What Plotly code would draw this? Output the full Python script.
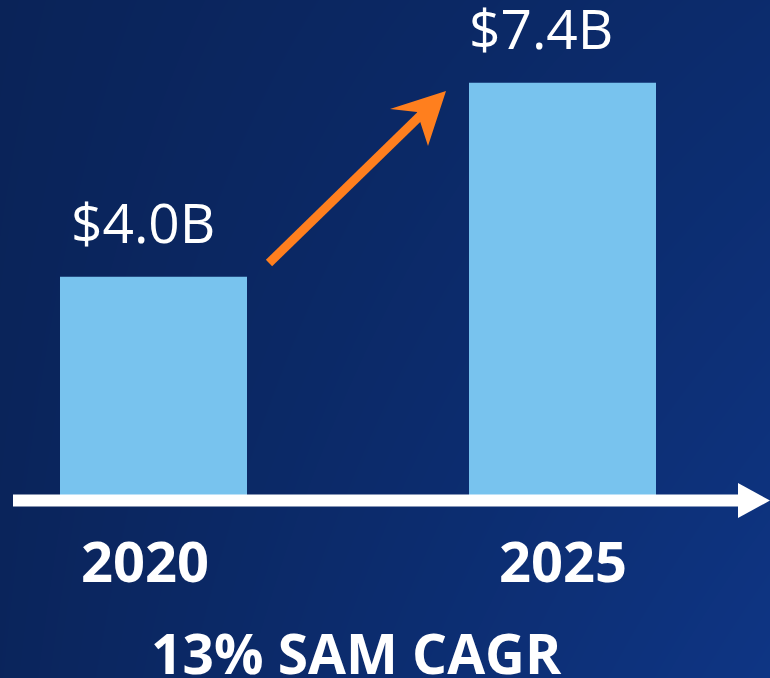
import plotly.graph_objects as go

# Market size figures
years = ["2020", "2025"]
values = [4.0, 7.4]
value_labels = ["$4.0B", "$7.4B"]
cagr_label = "13% SAM CAGR"

W, H = 770, 678
BASE_PX = 505.0          # pixel row of the value axis zero
X_PER_PX = 1 / 409.0
Y_PER_PX = 1 / 57.06
x_lo = -153.5 * X_PER_PX
x_hi = (W - 153.5) * X_PER_PX
y_lo = -(H - BASE_PX) * Y_PER_PX
y_hi = BASE_PX * Y_PER_PX

xs = list(range(len(years)))


def px(x):
    return x / W


def py(y):
    return 1 - y / H


fig = go.Figure()

# gradient backdrop
fig.add_trace(go.Heatmap(
    x=[x_lo, x_hi], y=[y_lo, y_hi],
    z=[[0.08, 1.0], [0.0, 0.47]],
    zsmooth="best", showscale=False, hoverinfo="skip",
    colorscale=[[0, "#0a2358"], [1, "#0e3584"]],
))

fig.add_trace(go.Bar(
    x=xs, y=values, width=187 * X_PER_PX,
    marker=dict(color="#78c3ee", line=dict(width=0)),
    hoverinfo="skip",
))

annotations = []
for i, (v, lab) in enumerate(zip(values, value_labels)):
    annotations.append(dict(
        x=xs[i], y=v, xref="x", yref="y", text=lab, showarrow=False,
        yanchor="bottom", yshift=16, xshift=-11 if i == 0 else -22,
        font=dict(family="Open Sans", size=55, color="white"),
    ))
year_shift = [-9, 0]
for i, yr in enumerate(years):
    annotations.append(dict(
        x=xs[i], y=py(560), xref="x", yref="paper", text=yr, showarrow=False,
        yanchor="middle", xshift=year_shift[i],
        font=dict(family="Open Sans", size=56, color="white", weight="bold"),
    ))
annotations.append(dict(
    x=px(356), y=py(652), xref="paper", yref="paper", text=cagr_label,
    showarrow=False, yanchor="middle",
    font=dict(family="Open Sans", size=55, color="white", weight="bold"),
))

shapes = [
    # timeline axis with arrowhead
    dict(type="line", xref="paper", yref="paper", layer="above",
         x0=px(13), x1=px(742), y0=py(500.5), y1=py(500.5),
         line=dict(color="white", width=12)),
    dict(type="path", xref="paper", yref="paper", layer="above",
         path=f"M {px(738)},{py(483)} L {px(770)},{py(500.5)} L {px(738)},{py(518)} Z",
         fillcolor="white", line=dict(width=0)),
    # growth arrow
    dict(type="line", xref="paper", yref="paper", layer="above",
         x0=px(269), y0=py(263), x1=px(422), y1=py(114),
         line=dict(color="#ff7f1e", width=9)),
    dict(type="path", xref="paper", yref="paper", layer="above",
         path=(f"M {px(446)},{py(91)} L {px(390)},{py(109)} "
               f"L {px(417)},{py(112)} L {px(428)},{py(146)} Z"),
         fillcolor="#ff7f1e", line=dict(width=0)),
]

fig.update_layout(
    width=W, height=H, margin=dict(l=0, r=0, t=0, b=0),
    paper_bgcolor="#0b2760", plot_bgcolor="#0b2760",
    showlegend=False, annotations=annotations, shapes=shapes,
    xaxis=dict(range=[x_lo, x_hi], visible=False, fixedrange=True),
    yaxis=dict(range=[y_lo, y_hi], visible=False, fixedrange=True),
)

fig.write_html("out.html")
